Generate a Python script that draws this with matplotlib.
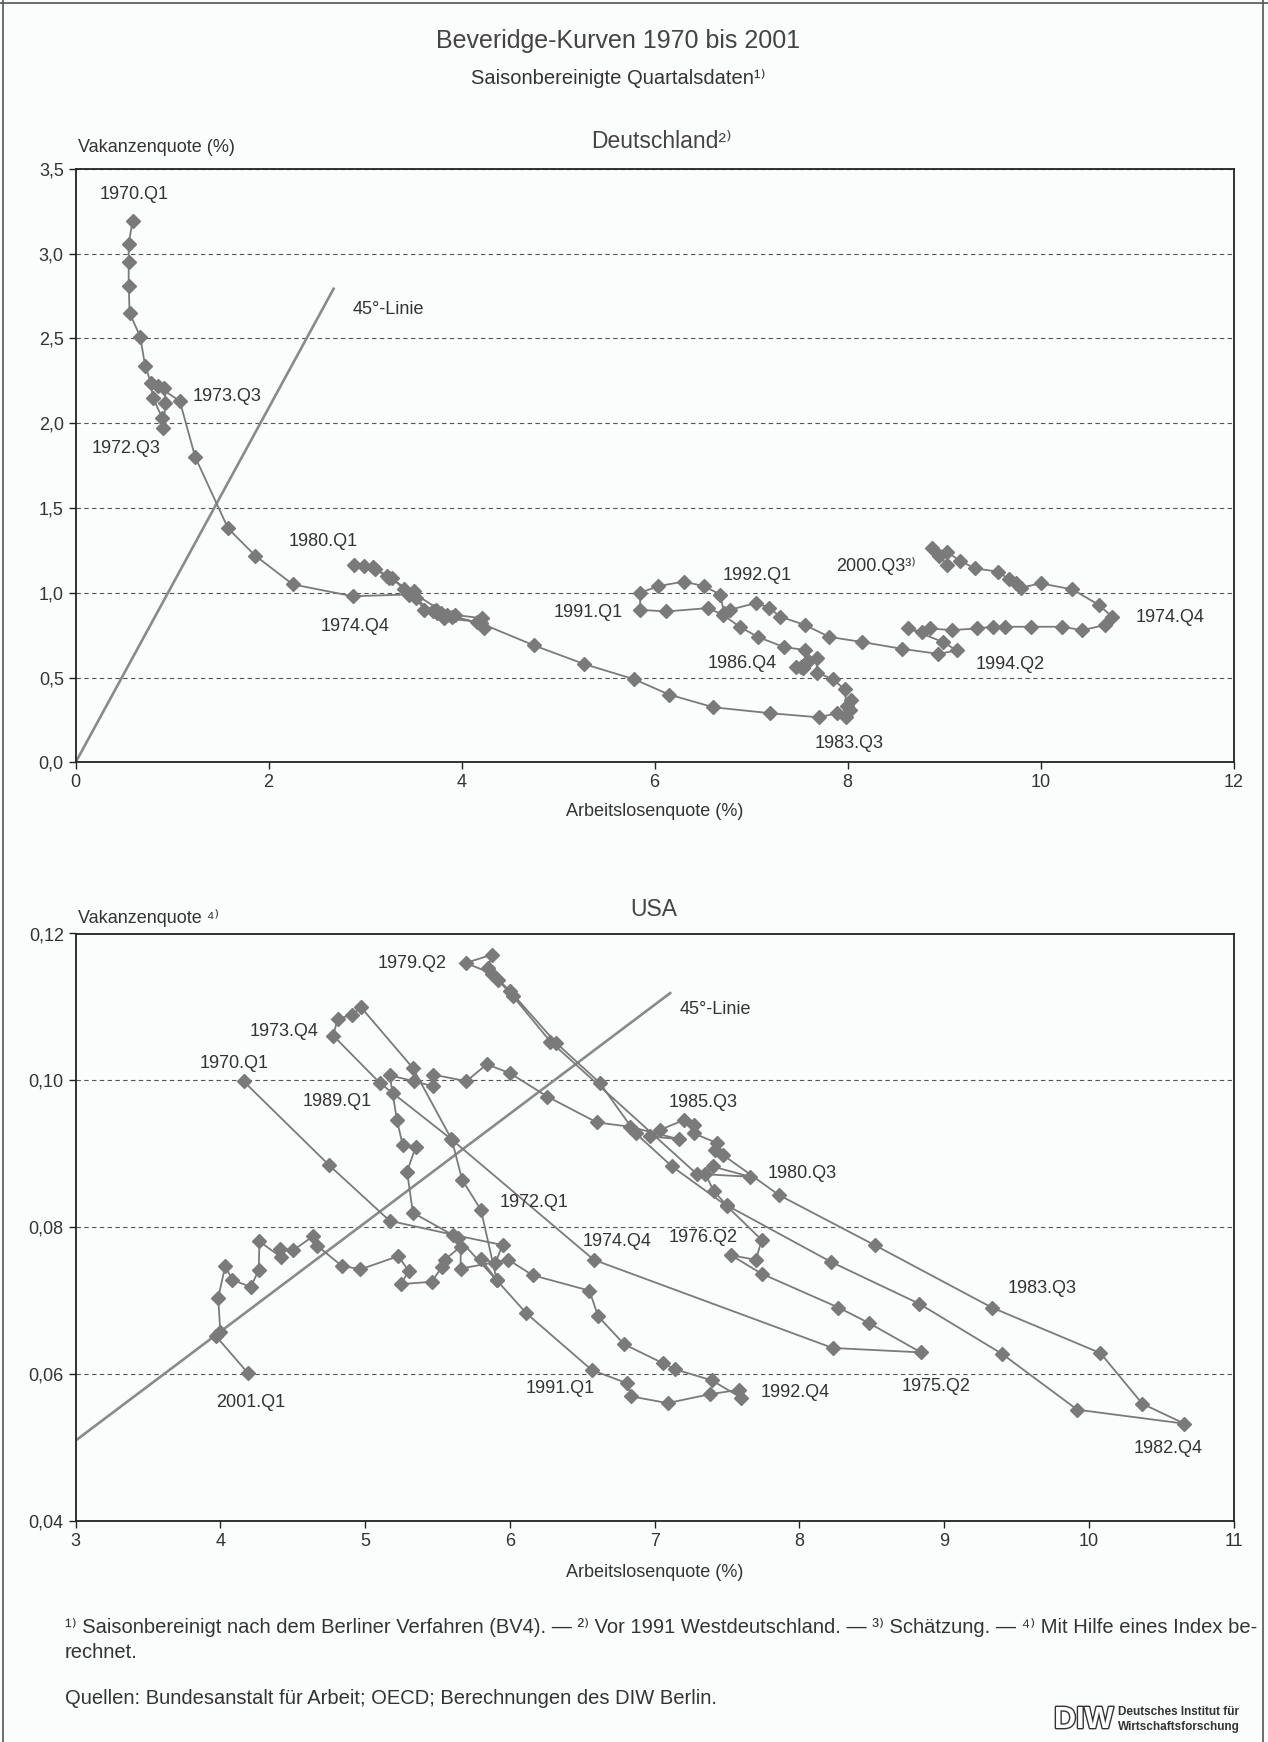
import matplotlib
matplotlib.use("Agg")
import matplotlib.pyplot as plt
import matplotlib.patheffects as pe
from matplotlib.lines import Line2D
from matplotlib.ticker import FuncFormatter, MultipleLocator

plt.rcParams["font.family"] = ["Liberation Sans", "DejaVu Sans"]

W, H = 1268, 1742
BG = "#fbfcfc"
INK = "#333333"
GREY = "#7a7a7a"

# Deutschland: Arbeitslosenquote / Vakanzenquote, 1970.Q1 bis 2000.Q3
de_u = [0.59, 0.55, 0.55, 0.55, 0.56, 0.67, 0.72, 0.78, 0.80, 0.90, 0.91, 0.93,
        0.92, 0.85, 1.08, 1.24, 1.58, 1.86, 2.25, 2.87, 3.45, 3.82, 4.16, 4.23,
        4.21, 3.93, 3.79, 3.73, 3.82, 3.90, 3.80, 3.75, 3.70, 3.61, 3.53, 3.51,
        3.40, 3.28, 3.23, 3.08, 2.89, 2.99, 3.10, 3.25, 3.50, 3.85, 4.20, 4.75,
        5.27, 5.79, 6.15, 6.61, 7.20, 7.70, 7.89, 7.98, 8.02, 8.04, 7.99, 7.97,
        7.85, 7.68, 7.68, 7.59, 7.54, 7.47, 7.56, 7.52, 7.59, 7.56, 7.34, 7.07,
        6.88, 6.71, 6.55, 6.12, 5.85, 5.85, 6.04, 6.30, 6.51, 6.68, 6.72, 6.78,
        7.05, 7.19, 7.30, 7.56, 7.81, 8.15, 8.56, 8.94, 9.13, 8.99, 8.63, 8.77,
        8.85, 9.08, 9.34, 9.51, 9.63, 9.90, 10.22, 10.43, 10.67, 10.74, 10.60, 10.33,
        10.00, 9.80, 9.75, 9.67, 9.56, 9.32, 9.16, 9.03, 8.87, 8.95, 9.03]
de_v = [3.19, 3.06, 2.95, 2.81, 2.65, 2.51, 2.34, 2.24, 2.15, 2.03, 1.97, 2.12,
        2.21, 2.22, 2.13, 1.80, 1.38, 1.22, 1.05, 0.98, 0.99, 0.85, 0.83, 0.79,
        0.85, 0.87, 0.88, 0.90, 0.86, 0.86, 0.87, 0.88, 0.89, 0.90, 0.97, 1.01,
        1.02, 1.09, 1.10, 1.15, 1.167, 1.157, 1.14, 1.09, 1.00, 0.87, 0.82, 0.69,
        0.58, 0.49, 0.40, 0.325, 0.29, 0.266, 0.29, 0.266, 0.31, 0.37, 0.33, 0.43,
        0.49, 0.53, 0.615, 0.60, 0.555, 0.565, 0.58, 0.565, 0.60, 0.663, 0.68, 0.74,
        0.80, 0.87, 0.91, 0.89, 0.90, 1.00, 1.04, 1.066, 1.04, 0.99, 0.88, 0.90,
        0.94, 0.91, 0.86, 0.81, 0.74, 0.71, 0.67, 0.64, 0.66, 0.71, 0.79, 0.77,
        0.79, 0.78, 0.79, 0.80, 0.80, 0.80, 0.80, 0.78, 0.81, 0.86, 0.93, 1.02,
        1.056, 1.03, 1.06, 1.08, 1.125, 1.144, 1.19, 1.242, 1.262, 1.22, 1.164]

de_45_u = [0.0, 2.68]
de_45_v = [0.0, 2.80]

de_notes = ["1970.Q1", "45°-Linie", "1973.Q3", "1972.Q3", "1980.Q1", "1974.Q4",
            "1991.Q1", "1992.Q1", "1986.Q4", "1983.Q3", "2000.Q3³⁾", "1974.Q4",
            "1994.Q2"]
de_note_u = [0.25, 2.87, 1.21, 0.17, 2.21, 2.54, 4.95, 6.71, 6.55, 7.66, 7.88, 10.98, 9.33]
de_note_v = [3.35, 2.67, 2.156, 1.85, 1.30, 0.804, 0.886, 1.105, 0.584, 0.113, 1.158, 0.855, 0.58]

# USA: Arbeitslosenquote / Vakanzenquote (Index), 1970.Q1 bis 2001.Q1
us_u = [4.16, 4.75, 5.17, 5.61, 5.95, 5.90, 5.80, 5.91, 5.80, 5.67, 5.60, 5.33,
        4.97, 4.91, 4.81, 4.78, 5.10, 5.19, 5.59, 6.58, 8.23, 8.84, 8.48, 8.27,
        7.74, 7.53, 7.70, 7.74, 7.50, 7.12, 6.87, 6.62, 6.32, 6.00, 5.92, 5.85,
        5.875, 5.695, 5.88, 6.02, 6.28, 7.29, 7.66, 7.40, 7.35, 7.41, 7.50, 8.22,
        8.83, 9.40, 9.92, 10.66, 10.37, 10.08, 9.33, 8.52, 7.86, 7.47, 7.42, 7.43,
        7.27, 7.27, 7.20, 7.04, 6.97, 7.17, 6.83, 6.60, 6.26, 6.00, 5.84, 5.70,
        5.47, 5.47, 5.34, 5.17, 5.22, 5.26, 5.35, 5.29, 5.33, 5.64, 5.91, 6.115,
        6.566, 6.81, 6.84, 7.09, 7.38, 7.58, 7.60, 7.395, 7.14, 7.06, 6.79, 6.61,
        6.55, 6.157, 5.99, 5.66, 5.66, 5.55, 5.53, 5.46, 5.25, 5.30, 5.23, 4.968,
        4.837, 4.67, 4.64, 4.504, 4.41, 4.416, 4.27, 4.265, 4.21, 4.08, 4.034, 3.985,
        4.00, 3.97, 4.19]
us_v = [0.0999, 0.0885, 0.0809, 0.0790, 0.0776, 0.0752, 0.0757, 0.0728, 0.0824, 0.0865, 0.0919, 0.1017,
        0.1100, 0.1089, 0.1084, 0.1061, 0.0997, 0.0983, 0.0921, 0.0756, 0.0636, 0.0630, 0.0670, 0.0691,
        0.0737, 0.0762, 0.0756, 0.0783, 0.0829, 0.0883, 0.0928, 0.0997, 0.1051, 0.1122, 0.1137, 0.1153,
        0.1171, 0.1160, 0.1145, 0.1115, 0.1053, 0.0873, 0.0869, 0.0883, 0.0873, 0.0849, 0.0830, 0.0753,
        0.0696, 0.0628, 0.0552, 0.0533, 0.0560, 0.0629, 0.0691, 0.0776, 0.0844, 0.0899, 0.0906, 0.0915,
        0.0928, 0.0939, 0.0946, 0.0933, 0.0924, 0.0920, 0.0937, 0.0943, 0.0978, 0.1010, 0.1022, 0.0999,
        0.1008, 0.0992, 0.0999, 0.1007, 0.0946, 0.0912, 0.0910, 0.0876, 0.0820, 0.0786, 0.0728, 0.0683,
        0.0606, 0.0588, 0.0570, 0.0561, 0.0573, 0.0579, 0.0568, 0.0592, 0.0607, 0.0615, 0.0641, 0.0679,
        0.0714, 0.0735, 0.0756, 0.0744, 0.0774, 0.0756, 0.0746, 0.0726, 0.0723, 0.0741, 0.0761, 0.0743,
        0.0748, 0.0775, 0.0788, 0.0769, 0.0771, 0.0760, 0.0781, 0.0742, 0.0719, 0.0729, 0.0748, 0.0704,
        0.0658, 0.0652, 0.0602]

us_45_u = [3.0, 7.115]
us_45_v = [0.051, 0.112]

us_notes = ["1979.Q2", "1973.Q4", "1970.Q1", "1989.Q1", "1972.Q1", "45°-Linie",
            "1985.Q3", "1980.Q3", "1974.Q4", "1976.Q2", "1983.Q3", "1975.Q2",
            "1992.Q4", "1991.Q1", "2001.Q1", "1982.Q4"]
us_note_u = [5.086, 4.20, 3.857, 4.571, 5.93, 7.17, 7.10, 7.78, 6.503, 7.10, 9.44,
             8.706, 7.73, 6.11, 3.97, 10.31]
us_note_v = [0.1159, 0.1066, 0.1023, 0.0971, 0.0834, 0.1096, 0.0970, 0.0873, 0.0781,
             0.0787, 0.0717, 0.0584, 0.0575, 0.0581, 0.0562, 0.0499]


def px(x, y):
    return x / W, 1 - y / H


def comma(decimals):
    return FuncFormatter(lambda v, _: f"{v:.{decimals}f}".replace(".", ","))


def style_axes(ax):
    ax.set_facecolor(BG)
    for s in ax.spines.values():
        s.set_color("#222222")
        s.set_linewidth(1.3)
    ax.yaxis.grid(True, linestyle=(0, (4, 3)), color="#555555", linewidth=0.8)
    ax.set_axisbelow(True)
    ax.tick_params(direction="out", length=5, width=1, colors="#222222",
                   labelsize=13, labelcolor=INK, top=False, right=False)


def draw_curve(ax, u, v, lu, lv, notes, nu, nv):
    ax.plot(lu, lv, color="#8a8a8a", linewidth=1.9, solid_capstyle="butt")
    ax.plot(u, v, color=GREY, linewidth=1.3, marker="D", markersize=7.3,
            markerfacecolor=GREY, markeredgecolor=GREY, zorder=3)
    for t, x, y in zip(notes, nu, nv):
        ax.text(x, y, t, fontsize=13, color=INK, ha="left", va="center")


fig = plt.figure(figsize=(W / 100, H / 100), dpi=100, facecolor=BG)

# Deutschland
ax1 = fig.add_axes([75.6 / W, 1 - 762.4 / H, 1158 / W, 593.5 / H])
style_axes(ax1)
draw_curve(ax1, de_u, de_v, de_45_u, de_45_v, de_notes, de_note_u, de_note_v)
ax1.set_xlim(0, 12)
ax1.set_ylim(0, 3.5)
ax1.xaxis.set_major_locator(MultipleLocator(2))
ax1.yaxis.set_major_locator(MultipleLocator(0.5))
ax1.yaxis.set_major_formatter(comma(1))

# USA
ax2 = fig.add_axes([75.6 / W, 1 - 1521.4 / H, 1158 / W, 587.9 / H])
style_axes(ax2)
draw_curve(ax2, us_u, us_v, us_45_u, us_45_v, us_notes, us_note_u, us_note_v)
ax2.set_xlim(3, 11)
ax2.set_ylim(0.04, 0.12)
ax2.xaxis.set_major_locator(MultipleLocator(1))
ax2.yaxis.set_major_locator(MultipleLocator(0.02))
ax2.yaxis.set_major_formatter(comma(2))

# Titel und Achsentexte
fig.text(*px(618, 41), "Beveridge-Kurven 1970 bis 2001", fontsize=18, color="#444444",
         ha="center", va="center")
fig.text(*px(618, 78), "Saisonbereinigte Quartalsdaten¹⁾", fontsize=14.5, color=INK,
         ha="center", va="center")
fig.text(*px(661, 141), "Deutschland²⁾", fontsize=16.5, color="#444444",
         ha="center", va="center")
fig.text(*px(78, 148), "Vakanzenquote (%)", fontsize=13, color=INK, ha="left", va="center")
fig.text(*px(654.6, 811), "Arbeitslosenquote (%)", fontsize=13, color=INK,
         ha="center", va="center")
fig.text(*px(653.5, 909), "USA", fontsize=16.5, color="#444444", ha="center", va="center")
fig.text(*px(78, 918), "Vakanzenquote ⁴⁾", fontsize=13, color=INK, ha="left", va="center")
fig.text(*px(654.6, 1572), "Arbeitslosenquote (%)", fontsize=13, color=INK,
         ha="center", va="center")

# Fussnoten
fig.text(*px(65, 1627),
         "¹⁾ Saisonbereinigt nach dem Berliner Verfahren (BV4). — ²⁾ Vor 1991 "
         "Westdeutschland. — ³⁾ Schätzung. — ⁴⁾ Mit Hilfe eines Index be-",
         fontsize=14.5, color=INK, ha="left", va="center")
fig.text(*px(65, 1652), "rechnet.", fontsize=14.5, color=INK, ha="left", va="center")
fig.text(*px(65, 1698), "Quellen: Bundesanstalt für Arbeit; OECD; Berechnungen des DIW Berlin.",
         fontsize=14.5, color=INK, ha="left", va="center")

# DIW-Logo
fig.text(*px(1054, 1720), "DIW", fontsize=22, fontweight="bold", color="white",
         ha="left", va="center",
         path_effects=[pe.withStroke(linewidth=2, foreground="#333333")])
fig.text(*px(1118, 1712), "Deutsches Institut für", fontsize=8.5, fontweight="bold",
         color=INK, ha="left", va="center")
fig.text(*px(1118, 1727), "Wirtschaftsforschung", fontsize=8.5, fontweight="bold",
         color=INK, ha="left", va="center")

# Rand des Scans
for xs, ys in [([3, 3], [0, H]), ([0, W], [3, 3]), ([1263, 1263], [0, H])]:
    fig.add_artist(Line2D([x / W for x in xs], [1 - y / H for y in ys],
                          color="#555555", linewidth=1.2))

fig.savefig("out.png", dpi=100, facecolor=BG)
